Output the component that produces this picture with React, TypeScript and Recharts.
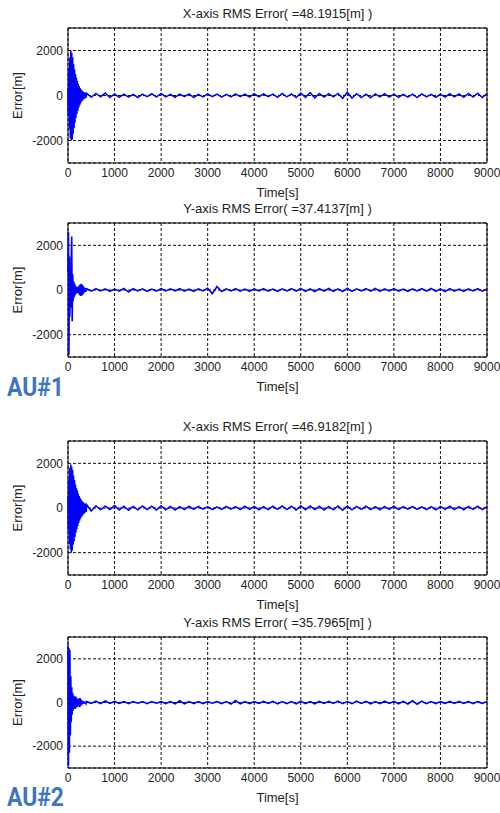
import { CartesianGrid, Line, LineChart, ReferenceArea, XAxis, YAxis } from "recharts";

// sample times [s]: dense at the start, then every 100 s
const times = [
  0, 10, 20, 30, 40, 50, 60, 70, 80, 90,
  100, 110, 120, 130, 140, 150, 160, 170, 180, 190,
  200, 210, 220, 230, 240, 250, 260, 270, 280, 290,
  300, 310, 320, 330, 340, 350, 360, 370, 380, 390,
  400,
  500, 600, 700, 800, 900, 1000, 1100, 1200, 1300, 1400,
  1500, 1600, 1700, 1800, 1900, 2000, 2100, 2200, 2300, 2400,
  2500, 2600, 2700, 2800, 2900, 3000, 3100, 3200, 3300, 3400,
  3500, 3600, 3700, 3800, 3900, 4000, 4100, 4200, 4300, 4400,
  4500, 4600, 4700, 4800, 4900, 5000, 5100, 5200, 5300, 5400,
  5500, 5600, 5700, 5800, 5900, 6000, 6100, 6200, 6300, 6400,
  6500, 6600, 6700, 6800, 6900, 7000, 7100, 7200, 7300, 7400,
  7500, 7600, 7700, 7800, 7900, 8000, 8100, 8200, 8300, 8400,
  8500, 8600, 8700, 8800, 8900, 9000,
];

const au1X = [
  300, -900, 1200, -1500, 1700, -1900, 2000, -2000, 1900, -1950,
  1700, -1700, 1400, -1450, 1150, -1200, 950, -1000, 800, -820,
  650, -680, 520, -540, 420, -430, 330, -350, 270, -280,
  220, -220, 180, -170, 150, -140, 130, -120, 110, -100,
  100,
  -80, 90, -60, 110, -90, 70, -80, 60, -70, 50,
  -90, 60, -50, 80, -70, 90, -60, 50, -80, 60,
  -50, 70, -90, 50, -60, 70, -50, 60, -70, 50,
  -60, 70, -50, 60, -70, 80, -60, 70, -50, 60,
  -80, 90, -60, 70, -90, 110, -80, 130, -100, 90,
  -70, 80, -60, 90, -120, 140, -110, 80, -90, 60,
  -100, 70, -60, 80, -70, 60, -80, 50, -70, 60,
  -90, 70, -60, 50, -80, 60, -70, 80, -60, 70,
  -80, 90, -70, 100, -90, 80,
];

const au1Y = [
  800, 2600, -2900, 1500, -1200, 900, -800, 1500, 2400, -1400,
  700, -500, 400, -350, 300, -250, 200, -180, 150, -130,
  120, -110, 140, -170, 200, -230, 250, -270, 280, -260,
  250, -230, 200, -170, 140, -110, 90, -80, 70, -60,
  60,
  -50, 60, -40, 50, -60, 40, -50, 70, -90, 60,
  -40, 50, -60, 40, -50, 60, -40, 50, -40, 60,
  -50, 40, -60, 50, -40, 80, -160, 150, -70, 50,
  -40, 60, -50, 40, -60, 50, -40, 60, -50, 40,
  -60, 50, -40, 60, -50, 70, -60, 50, -70, 60,
  -50, 70, -60, 50, -70, 80, -60, 50, -40, 60,
  -50, 70, -60, 50, -40, 60, -50, 40, -60, 50,
  -40, 60, -50, 70, -60, 50, -70, 60, -50, 40,
  -60, 50, -40, 60, -50, 40,
];

const au2X = [
  500, -1000, 1300, -1600, 1800, -1850, 1950, -2000, 1850, -1900,
  1700, -1650, 1450, -1500, 1250, -1300, 1050, -1100, 900, -950,
  780, -800, 650, -680, 540, -560, 450, -470, 380, -400,
  320, -330, 270, -280, 230, -240, 200, -200, 170, -180,
  150,
  -130, 100, -80, 90, -70, 110, -90, 80, -100, 70,
  -80, 90, -70, 80, -90, 100, -80, 70, -90, 60,
  -70, 80, -60, 70, -50, 60, -70, 50, -60, 70,
  -50, 60, -70, 80, -60, 70, -80, 60, -70, 80,
  -60, 90, -70, 80, -90, 100, -80, 90, -70, 80,
  -90, 70, -80, 90, -100, 90, -80, 70, -60, 80,
  -70, 60, -80, 70, -60, 80, -70, 60, -50, 70,
  -60, 50, -70, 60, -80, 70, -60, 80, -70, 60,
  -80, 70, -60, 80, -70, 60,
];

const au2Y = [
  2600, -2900, 2500, -2300, 2400, -1500, 1200, -900, 700, -550,
  450, -380, 320, -280, 240, -300, 280, -260, 230, -200,
  170, -140, 150, -180, 200, -220, 200, -170, 140, -110,
  90, -80, 70, -60, 50, -50, 40, -50, 40, -40,
  40,
  -40, 60, -50, 70, -40, 50, -40, 40, -50, 40,
  -30, 40, -50, 40, -30, 40, -50, 40, -60, 80,
  -60, 40, -50, 40, -50, 40, -30, 40, -50, 40,
  -70, 90, -60, 40, -50, 40, -40, 50, -40, 50,
  -60, 40, -50, 40, -60, 60, -50, 40, -60, 50,
  -40, 50, -40, 60, -50, 40, -50, 60, -40, 50,
  -60, 40, -50, 60, -40, 50, -60, 50, -70, 80,
  -80, 60, -50, 40, -50, 40, -40, 50, -40, 50,
  -40, 40, -50, 40, -40, 50,
];

const xTicks = [0, 1000, 2000, 3000, 4000, 5000, 6000, 7000, 8000, 9000];
const yTicks = [-2000, 0, 2000];

const titles = [
  "X-axis RMS Error( =48.1915[m] )",
  "Y-axis RMS Error( =37.4137[m] )",
  "X-axis RMS Error( =46.9182[m] )",
  "Y-axis RMS Error( =35.7965[m] )",
];

const FONT = "'Liberation Sans', Arial, Helvetica, sans-serif";
const TEXT = "#222";

interface PanelProps {
  values: number[];
  title: string;
  boxTop: number;
  boxBottom: number;
}

function Panel({ values, title, boxTop, boxBottom }: PanelProps) {
  const data = times.map((t, i) => ({ t, v: values[i] }));
  const h = boxBottom - boxTop + 10 + 40;
  return (
    <>
      <div
        style={{
          position: "absolute",
          left: 68,
          width: 419,
          top: boxTop - 22,
          textAlign: "center",
          fontFamily: FONT,
          fontSize: 13,
          lineHeight: "15px",
          color: TEXT,
        }}
      >
        {title}
      </div>
      <div style={{ position: "absolute", left: 0, top: boxTop - 10 }}>
        <LineChart
          width={500}
          height={h}
          data={data}
          margin={{ top: 10, right: 13, bottom: 0, left: 8 }}
        >
          <CartesianGrid stroke="#111" strokeDasharray="3 2" />
          <XAxis
            dataKey="t"
            type="number"
            domain={[0, 9000]}
            ticks={xTicks}
            height={40}
            axisLine={false}
            tickLine={false}
            tickSize={4}
            tickMargin={1}
            interval={0}
            tick={{ fill: TEXT, fontSize: 12, fontFamily: FONT }}
            label={{
              value: "Time[s]",
              position: "insideBottom",
              offset: 6,
              fill: TEXT,
              fontSize: 13,
              fontFamily: FONT,
            }}
          />
          <YAxis
            type="number"
            domain={[-3000, 3000]}
            ticks={yTicks}
            width={60}
            axisLine={false}
            tickLine={false}
            tickSize={4}
            tickMargin={1}
            interval={0}
            tick={{ fill: TEXT, fontSize: 12, fontFamily: FONT }}
            label={{
              value: "Error[m]",
              angle: -90,
              position: "insideLeft",
              offset: 9,
              fill: TEXT,
              fontSize: 13,
              fontFamily: FONT,
              style: { textAnchor: "middle" },
            }}
          />
          <Line
            dataKey="v"
            type="linear"
            stroke="#0000ff"
            strokeWidth={1.6}
            dot={false}
            isAnimationActive={false}
          />
          <ReferenceArea
            x1={0}
            x2={9000}
            y1={-3000}
            y2={3000}
            fill="none"
            stroke="#000"
            strokeWidth={1}
          />
        </LineChart>
      </div>
    </>
  );
}

// condensed bold blue tags, squeezed horizontally
const auStyle = {
  position: "absolute" as const,
  fontFamily: "Roboto, 'Noto Sans', sans-serif",
  fontWeight: 700,
  fontSize: 26,
  lineHeight: "24px",
  color: "#3d74c5",
  transform: "scaleX(0.88)",
  transformOrigin: "left top",
  whiteSpace: "nowrap" as const,
};

export default function App() {
  return (
    <div
      style={{
        position: "absolute",
        left: 0,
        top: 0,
        width: 500,
        height: 813,
        background: "#fff",
        overflow: "hidden",
      }}
    >
      <Panel values={au1X} title={titles[0]} boxTop={28} boxBottom={163} />
      <Panel values={au1Y} title={titles[1]} boxTop={223} boxBottom={357} />
      <Panel values={au2X} title={titles[2]} boxTop={441} boxBottom={575} />
      <Panel values={au2Y} title={titles[3]} boxTop={637} boxBottom={768} />
      <div style={{ ...auStyle, left: 7, top: 375 }}>AU#1</div>
      <div style={{ ...auStyle, left: 7, top: 785 }}>AU#2</div>
    </div>
  );
}
